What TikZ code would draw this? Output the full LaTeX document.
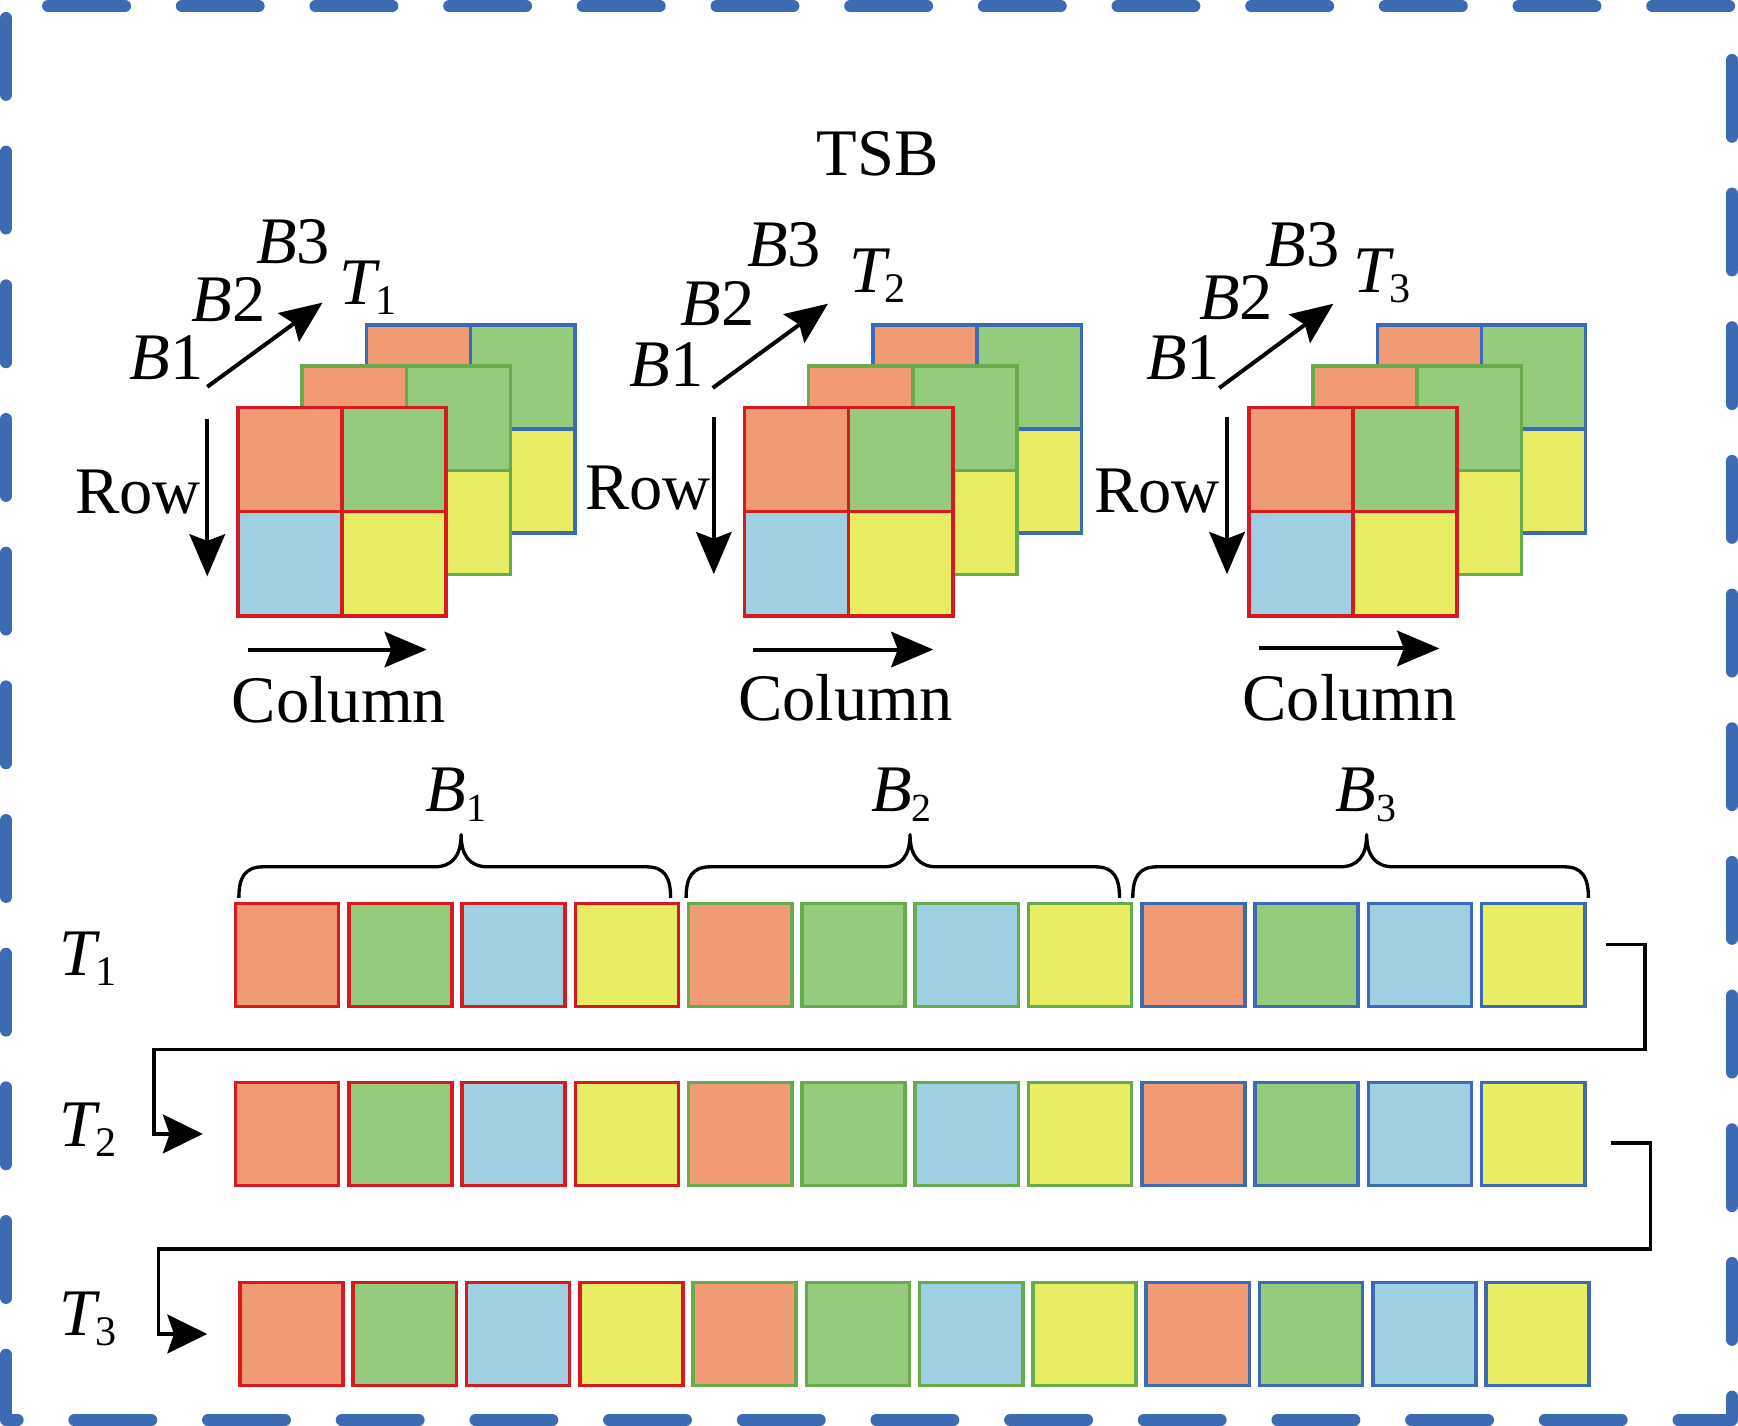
\documentclass[tikz,border=0pt]{standalone}
\usepackage{fontspec}
\setmainfont{Liberation Serif}
\usetikzlibrary{arrows.meta}
\newcommand{\ISub}[4]{{\itshape #1}\kern#4\raisebox{-4.5pt}{\fontsize{#3}{#3}\selectfont #2}}
\definecolor{cOr}{RGB}{241,155,117}
\definecolor{cGr}{RGB}{149,203,125}
\definecolor{cBl}{RGB}{158,208,225}
\definecolor{cYe}{RGB}{233,237,99}
\definecolor{eRed}{RGB}{215,25,32}
\definecolor{eGrn}{RGB}{103,171,76}
\definecolor{eBlu}{RGB}{61,106,180}
\definecolor{bdr}{RGB}{60,107,180}
\tikzset{
  txt/.style={font=\fontsize{30}{36}\selectfont, inner sep=0pt, outer sep=0pt, anchor=base west},
  cell/.style={draw, line width=1.6pt, minimum width=46.5pt, minimum height=46.5pt, inner sep=0pt, outer sep=0pt},
  arr/.style={line width=1.8pt, -{Stealth[length=19pt,width=16pt,inset=3pt]}},
  conn/.style={line width=1.6pt, -{Stealth[length=18pt,width=17.5pt,inset=3pt]}},
  brc/.style={line width=1.5pt, line join=round},
  frame/.style={bdr, line width=5.4pt, line cap=round, line join=round, dash pattern=on 34.7pt off 25.6pt}
}
\begin{document}
\begin{tikzpicture}[x=0.5pt, y=-0.5pt]
\useasboundingbox (0,0) rectangle (1568,1286.5);
% outer dashed frame
\draw[frame] (5.4,16.2) -- (5.4,1281.1) -- (1562.6,1281.1) -- (1562.6,5.4) -- (5.4,5.4);

\node[txt] (tsb) at (737,158) {TSB};

% stacks of 2x2 blocks
\foreach \fx in {213,670,1125}{
  \foreach \l/\ec in {2/eBlu,1/eGrn,0/eRed}{
    \pgfmathsetmacro{\px}{\fx+1.6+58*\l}
    \pgfmathsetmacro{\py}{367.6-37.3*\l}
    \fill[cOr] (\px,\py) rectangle ++(94,94);
    \fill[cGr] ({\px+94},\py) rectangle ++(94,94);
    \fill[cBl] (\px,{\py+94}) rectangle ++(94,94);
    \fill[cYe] ({\px+94},{\py+94}) rectangle ++(94,94);
    \draw[\ec, line width=1.6pt] (\px,\py) rectangle ++(188,188)
      ({\px+94},\py) -- ++(0,188) (\px,{\py+94}) -- ++(188,0);
  }
}

% stack 1 labels and arrows
\node[txt] (s1b1) at (117,342) {\textit{B}1};
\node[txt] (s1b2) at (173,290) {\textit{B}2};
\node[txt] (s1b3) at (231,238) {\textit{B}3};
\node[txt] (s1t) at (306,275) {\ISub{T}{1}{19}{-0.5pt}};
\node[txt] (s1row) at (68,463) {Row};
\node[txt] (s1col) at (209,652) {Column};
\coordinate (s1d0) at (187,349); \coordinate (s1d1) at (291,273);
\coordinate (s1r0) at (187,378); \coordinate (s1r1) at (187,520);
\coordinate (s1c0) at (224,586); \coordinate (s1c1) at (385,586);
\draw[arr] (s1d0) -- (s1d1);
\draw[arr] (s1r0) -- (s1r1);
\draw[arr] (s1c0) -- (s1c1);

% stack 2
\node[txt] (s2b1) at (568,349) {\textit{B}1};
\node[txt] (s2b2) at (614,294) {\textit{B}2};
\node[txt] (s2b3) at (674,240) {\textit{B}3};
\node[txt] (s2t) at (766,264) {\ISub{T}{2}{19}{-0.5pt}};
\node[txt] (s2row) at (528,460) {Row};
\node[txt] (s2col) at (666,650) {Column};
\coordinate (s2d0) at (643,350); \coordinate (s2d1) at (747,274);
\coordinate (s2r0) at (644,376); \coordinate (s2r1) at (644,518);
\coordinate (s2c0) at (679,586); \coordinate (s2c1) at (842,586);
\draw[arr] (s2d0) -- (s2d1);
\draw[arr] (s2r0) -- (s2r1);
\draw[arr] (s2c0) -- (s2c1);

% stack 3
\node[txt] (s3b1) at (1034,342) {\textit{B}1};
\node[txt] (s3b2) at (1082,288) {\textit{B}2};
\node[txt] (s3b3) at (1142,240) {\textit{B}3};
\node[txt] (s3t) at (1221,264) {\ISub{T}{3}{19}{-0.5pt}};
\node[txt] (s3row) at (987,462) {Row};
\node[txt] (s3col) at (1121,650) {Column};
\coordinate (s3d0) at (1100,350); \coordinate (s3d1) at (1203,274);
\coordinate (s3r0) at (1107,376); \coordinate (s3r1) at (1107,518);
\coordinate (s3c0) at (1135.5,585); \coordinate (s3c1) at (1298.5,585);
\draw[arr] (s3d0) -- (s3d1);
\draw[arr] (s3r0) -- (s3r1);
\draw[arr] (s3c0) -- (s3c1);

% braces
\foreach \a/\b/\m in {215.5/605/416, 619/1010/821, 1022/1433/1233}{
  \draw[brc] (\a,810) .. controls (\a,792) and ({\a+5},782) .. ({\a+22},782)
    -- ({\m-24},782) .. controls ({\m-8},782) and (\m,772) .. (\m,753)
    .. controls (\m,772) and ({\m+8},782) .. ({\m+24},782)
    -- ({\b-22},782) .. controls ({\b-5},782) and (\b,792) .. (\b,810);
}
\node[txt] (lb1) at (384,732) {\ISub{B}{1}{18}{0pt}};
\node[txt] (lb2) at (786,732) {\ISub{B}{2}{18}{0pt}};
\node[txt] (lb3) at (1205,732) {\ISub{B}{3}{18}{0pt}};

% row labels
\node[txt] (lt1) at (54,880) {\ISub{T}{1}{19}{-0.5pt}};
\node[txt] (lt2) at (54,1034) {\ISub{T}{2}{19}{-0.5pt}};
\node[txt] (lt3) at (54,1205) {\ISub{T}{3}{19}{-0.5pt}};

% rows of cells
\foreach \r/\yy/\dx in {1/861.5/0, 2/1023/0, 3/1203.5/4}{
  \foreach \g/\ec in {0/eRed,1/eGrn,2/eBlu}{
    \foreach \c/\fc in {0/cOr,1/cGr,2/cBl,3/cYe}{
      \pgfmathsetmacro{\xx}{259+102.2*(4*\g+\c)+\dx}
      \node[cell, fill=\fc, draw=\ec] (r\r g\g c\c) at (\xx,\yy) {};
    }
  }
}

% connectors between rows
\coordinate (c1a) at (1449,852); \coordinate (c1b) at (183,1023);
\coordinate (c2a) at (1453,1031); \coordinate (c2b) at (187,1203.5);
\draw[conn] (c1a) -- (1484,852) -- (1484,947) -- (139,947) -- (139,1023) -- (c1b);
\draw[conn] (c2a) -- (1489,1031) -- (1489,1127) -- (143,1127) -- (143,1203.5) -- (c2b);
\end{tikzpicture}
\end{document}
